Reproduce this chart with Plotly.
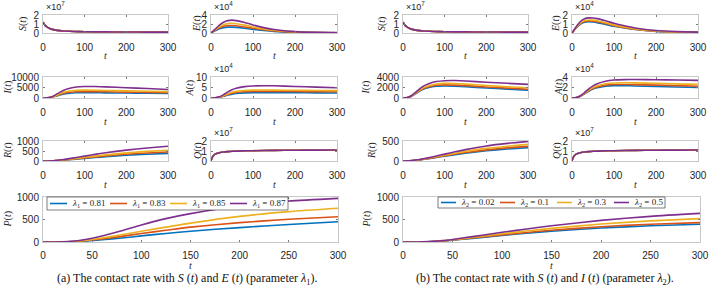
import plotly.graph_objects as go

W, H = 709, 287

# ---------------- data ----------------
t = [0, 10, 20, 30, 40, 50, 60, 80, 100, 125, 150, 200, 250, 300]
t_fast = [0, 2, 5, 10, 15, 20, 30, 40, 50, 75, 100, 150, 200, 250, 300]

colors = ['#0072BD', '#D95319', '#EDB120', '#7E2F8E']
lam1_values = ['0.81', '0.83', '0.85', '0.87']
lam2_values = ['0.02', '0.1', '0.3', '0.5']

# S(t) and Q(t) (x 1e7), identical for every parameter value
S_1e7 = [1.2, 1.05, 0.85, 0.65, 0.52, 0.43, 0.32, 0.26, 0.22, 0.17, 0.14, 0.12, 0.11, 0.10, 0.10]
Q_1e7 = [0.0, 0.25, 0.5, 0.68, 0.77, 0.83, 0.9, 0.94, 0.97, 1.01, 1.03, 1.06, 1.08, 1.09, 1.1]

# ---- panel (a): lambda_1 ----
E_a_1e4 = [
    [0, 0.5, 0.95, 1.2, 1.3, 1.3, 1.25, 1.05, 0.8, 0.55, 0.35, 0.15, 0.08, 0.05],
    [0, 0.6, 1.15, 1.5, 1.65, 1.65, 1.6, 1.35, 1.05, 0.72, 0.47, 0.2, 0.1, 0.06],
    [0, 0.7, 1.4, 1.85, 2.1, 2.15, 2.05, 1.75, 1.35, 0.92, 0.6, 0.25, 0.12, 0.07],
    [0, 0.85, 1.75, 2.4, 2.75, 2.85, 2.75, 2.35, 1.8, 1.2, 0.78, 0.3, 0.13, 0.08],
]
I_a = [
    [0, 50, 300, 800, 1400, 1900, 2200, 2500, 2550, 2500, 2450, 2350, 2250, 2150],
    [0, 60, 350, 950, 1700, 2300, 2650, 3000, 3050, 3000, 2950, 2800, 2650, 2550],
    [0, 70, 400, 1100, 2000, 2750, 3200, 3650, 3750, 3700, 3600, 3400, 3200, 3050],
    [0, 90, 500, 1500, 2700, 3700, 4400, 5200, 5450, 5450, 5300, 4900, 4500, 4050],
]
A_a_1e4 = [
    [0, 0.05, 0.3, 0.8, 1.4, 1.85, 2.15, 2.45, 2.55, 2.55, 2.55, 2.5, 2.45, 2.4],
    [0, 0.06, 0.36, 0.97, 1.7, 2.3, 2.65, 3.0, 3.15, 3.15, 3.15, 3.1, 3.0, 2.95],
    [0, 0.07, 0.42, 1.15, 2.0, 2.7, 3.15, 3.6, 3.75, 3.8, 3.75, 3.7, 3.6, 3.5],
    [0, 0.09, 0.55, 1.6, 2.9, 3.9, 4.6, 5.4, 5.75, 5.85, 5.8, 5.5, 5.2, 4.9],
]
R_a = [
    [0, 2, 8, 18, 30, 45, 60, 95, 130, 175, 215, 290, 340, 380],
    [0, 2, 9, 20, 35, 52, 70, 110, 155, 205, 255, 340, 400, 450],
    [0, 2, 10, 23, 40, 60, 82, 130, 185, 245, 305, 405, 480, 540],
    [0, 3, 12, 28, 50, 78, 108, 175, 245, 330, 410, 545, 650, 740],
]
P_a = [
    [0, 0, 2, 8, 18, 32, 50, 90, 135, 190, 240, 320, 390, 450],
    [0, 0, 2, 10, 24, 44, 68, 125, 190, 260, 330, 430, 505, 560],
    [0, 0, 3, 12, 30, 56, 88, 160, 240, 330, 420, 570, 675, 750],
    [0, 0, 4, 18, 45, 85, 135, 250, 380, 520, 630, 800, 910, 970],
]

# ---- panel (b): lambda_2 ----
E_b_1e4 = [
    [0, 0.55, 1.0, 1.2, 1.25, 1.22, 1.15, 0.95, 0.75, 0.55, 0.38, 0.18, 0.1, 0.06],
    [0, 0.58, 1.05, 1.28, 1.35, 1.32, 1.25, 1.04, 0.82, 0.6, 0.42, 0.2, 0.11, 0.07],
    [0, 0.62, 1.12, 1.38, 1.45, 1.43, 1.36, 1.14, 0.9, 0.66, 0.46, 0.22, 0.12, 0.08],
    [0, 0.7, 1.28, 1.58, 1.68, 1.67, 1.6, 1.36, 1.08, 0.8, 0.56, 0.27, 0.15, 0.1],
]
I_b = [
    [0, 60, 330, 800, 1300, 1700, 1950, 2250, 2300, 2250, 2150, 1900, 1700, 1500],
    [0, 65, 350, 860, 1400, 1830, 2100, 2430, 2500, 2450, 2350, 2100, 1880, 1680],
    [0, 70, 380, 930, 1520, 2000, 2300, 2680, 2780, 2750, 2650, 2380, 2150, 1950],
    [0, 80, 430, 1050, 1750, 2300, 2680, 3130, 3300, 3320, 3250, 3000, 2800, 2600],
]
A_b_1e4 = [
    [0, 0.06, 0.33, 0.8, 1.3, 1.7, 1.95, 2.25, 2.35, 2.35, 2.3, 2.2, 2.1, 2.0],
    [0, 0.065, 0.35, 0.86, 1.4, 1.83, 2.1, 2.45, 2.57, 2.58, 2.55, 2.45, 2.35, 2.25],
    [0, 0.07, 0.38, 0.93, 1.53, 2.0, 2.32, 2.72, 2.87, 2.9, 2.88, 2.8, 2.7, 2.6],
    [0, 0.08, 0.43, 1.05, 1.75, 2.3, 2.7, 3.2, 3.42, 3.5, 3.52, 3.48, 3.42, 3.35],
]
R_b = [
    [0, 2, 8, 17, 28, 42, 56, 88, 120, 160, 195, 255, 300, 335],
    [0, 2, 8, 18, 30, 45, 60, 95, 130, 173, 212, 278, 328, 365],
    [0, 2, 9, 20, 33, 50, 67, 106, 146, 195, 240, 315, 370, 415],
    [0, 2, 10, 23, 38, 58, 78, 124, 172, 230, 284, 375, 440, 490],
]
P_b = [
    [0, 0, 3, 10, 22, 40, 60, 102, 145, 195, 240, 310, 360, 395],
    [0, 0, 3, 10, 24, 43, 65, 112, 158, 212, 262, 340, 395, 430],
    [0, 0, 3, 11, 27, 49, 74, 128, 182, 245, 302, 400, 470, 520],
    [0, 0, 4, 13, 31, 57, 87, 150, 215, 290, 360, 480, 570, 635],
]

x_ticks_small = [0, 100, 200, 300]
x_ticks_P = [0, 50, 100, 150, 200, 250, 300]

# ---------------- layout helpers ----------------
def fx(p):
    return p / W

def fy(p):
    return 1 - p / H

SERIF = 'Liberation Serif, Times New Roman, serif'
SANS = 'Liberation Sans, Arial, sans-serif'
TXT = '#262626'

fig = go.Figure()
annotations = []
shapes = []

rows = [(15, 33), (77, 98), (141, 161), (197, 242)]
specs = [
    # panel (a)
    (43, 168, *rows[0], '<i>S</i>(<i>t</i>)', 23, [0, 2], [0, 1, 2], '7', x_ticks_small, t_fast, [S_1e7] * 4),
    (211, 337, *rows[0], '<i>E</i>(<i>t</i>)', 197, [0, 4], [0, 2, 4], '4', x_ticks_small, t, E_a_1e4),
    (43, 168, *rows[1], '<i>I</i>(<i>t</i>)', 7, [0, 10000], [0, 5000, 10000], None, x_ticks_small, t, I_a),
    (211, 337, *rows[1], '<i>A</i>(<i>t</i>)', 189, [0, 10], [0, 5, 10], '4', x_ticks_small, t, A_a_1e4),
    (43, 168, *rows[2], '<i>R</i>(<i>t</i>)', 8, [0, 1000], [0, 500, 1000], None, x_ticks_small, t, R_a),
    (211, 337, *rows[2], '<i>Q</i>(<i>t</i>)', 198, [0, 2], [0, 1, 2], '7', x_ticks_small, t_fast, [Q_1e7] * 4),
    (43, 338, *rows[3], '<i>P</i>(<i>t</i>)', 7, [0, 1000], [0, 500, 1000], None, x_ticks_P, t, P_a),
    # panel (b)
    (403, 528, *rows[0], '<i>S</i>(<i>t</i>)', 382, [0, 2], [0, 1, 2], '7', x_ticks_small, t_fast, [S_1e7] * 4),
    (572, 698, *rows[0], '<i>E</i>(<i>t</i>)', 556, [0, 2], [0, 1, 2], '4', x_ticks_small, t, E_b_1e4),
    (403, 528, *rows[1], '<i>I</i>(<i>t</i>)', 365, [0, 4000], [0, 2000, 4000], None, x_ticks_small, t, I_b),
    (572, 698, *rows[1], '<i>A</i>(<i>t</i>)', 558, [0, 4], [0, 2, 4], '4', x_ticks_small, t, A_b_1e4),
    (403, 528, *rows[2], '<i>R</i>(<i>t</i>)', 372, [0, 500], [0, 500], None, x_ticks_small, t, R_b),
    (572, 698, *rows[2], '<i>Q</i>(<i>t</i>)', 557, [0, 2], [0, 1, 2], '7', x_ticks_small, t_fast, [Q_1e7] * 4),
    (403, 700, *rows[3], '<i>P</i>(<i>t</i>)', 366, [0, 1000], [0, 500, 1000], None, x_ticks_P, t, P_b),
]

layout_axes = {}
for k, (x0, x1, y0, y1, lab, labx, yr, yt, expo, xt, tx, series) in enumerate(specs, start=1):
    xname = 'xaxis' if k == 1 else f'xaxis{k}'
    yname = 'yaxis' if k == 1 else f'yaxis{k}'
    xref = 'x' if k == 1 else f'x{k}'
    yref = 'y' if k == 1 else f'y{k}'
    big = (y1 == 242)
    for s, c in zip(series, colors):
        fig.add_trace(go.Scatter(x=tx, y=s, xaxis=xref, yaxis=yref, mode='lines',
                                 line=dict(color=c, width=1.6, shape='spline', smoothing=0.6),
                                 showlegend=False, hoverinfo='skip'))
    common = dict(showline=True, linecolor='#c8c8c8', linewidth=1, mirror='ticks',
                  ticks='inside', ticklen=2, tickcolor='#7a7a7a', showgrid=False,
                  zeroline=False, tickfont=dict(family=SANS, size=10, color=TXT),
                  automargin=False)
    layout_axes[xname] = dict(common, domain=[fx(x0), fx(x1)], anchor=yref, range=[0, 300],
                              tickvals=xt, ticktext=[str(v) for v in xt],
                              ticklabelstandoff=4 if big else 5)
    layout_axes[yname] = dict(common, domain=[fy(y1), fy(y0)], anchor=xref, range=yr,
                              tickvals=yt, ticktext=[str(v) for v in yt], ticklabelstandoff=1)
    annotations.append(dict(x=fx(labx), y=fy((y0 + y1) / 2), xref='paper', yref='paper',
                            text=lab, textangle=-90, showarrow=False,
                            font=dict(family=SERIF, size=10, color=TXT),
                            xanchor='center', yanchor='middle'))
    ty = y1 + 23
    annotations.append(dict(x=fx((x0 + x1) / 2), y=fy(ty), xref='paper', yref='paper',
                            text='<i>t</i>', showarrow=False,
                            font=dict(family=SERIF, size=10, color=TXT),
                            xanchor='center', yanchor='middle'))
    if expo:
        annotations.append(dict(x=fx(x0 + 1), y=fy(y0 - 1), xref='paper', yref='paper',
                                text='\u00d710<sup>' + expo + '</sup>', showarrow=False,
                                font=dict(family=SANS, size=9, color=TXT),
                                xanchor='left', yanchor='bottom'))

# ---------------- manual legends ----------------
def add_legend(box, starts, sub, values, seg, gap):
    bx0, bx1, by0, by1 = box
    shapes.append(dict(type='rect', xref='paper', yref='paper', x0=fx(bx0), x1=fx(bx1),
                       y0=fy(by1), y1=fy(by0), line=dict(color='#262626', width=0.6),
                       fillcolor='white', layer='above'))
    yc = (by0 + by1) / 2
    for st, c, v in zip(starts, colors, values):
        shapes.append(dict(type='line', xref='paper', yref='paper', x0=fx(st), x1=fx(st + seg),
                           y0=fy(yc), y1=fy(yc), line=dict(color=c, width=1.6), layer='above'))
        annotations.append(dict(x=fx(st + seg + gap), y=fy(yc), xref='paper', yref='paper',
                                text='<i>\u03bb</i><sub>' + sub + '</sub> = ' + v,
                                showarrow=False, xanchor='left', yanchor='middle',
                                font=dict(family=SERIF, size=9, color=TXT)))

add_legend((47, 288, 197, 210), [50, 110, 170, 230], '1', lam1_values, 17, 3)
add_legend((438, 665, 197, 208), [441, 500, 557, 614], '2', lam2_values, 15, 3)

# ---------------- captions ----------------
annotations.append(dict(x=fx(187), y=fy(279), xref='paper', yref='paper', showarrow=False,
                        text='(a) The contact rate with <i>S</i> (<i>t</i>) and <i>E</i> (<i>t</i>) (parameter <i>\u03bb</i><sub>1</sub>).',
                        font=dict(family=SERIF, size=12, color='#111111'),
                        xanchor='center', yanchor='middle'))
annotations.append(dict(x=fx(545), y=fy(279), xref='paper', yref='paper', showarrow=False,
                        text='(b) The contact rate with <i>S</i> (<i>t</i>) and <i>I</i> (<i>t</i>) (parameter <i>\u03bb</i><sub>2</sub>).',
                        font=dict(family=SERIF, size=12, color='#111111'),
                        xanchor='center', yanchor='middle'))

fig.update_layout(width=W, height=H, margin=dict(l=0, r=0, t=0, b=0),
                  paper_bgcolor='white', plot_bgcolor='white', showlegend=False,
                  annotations=annotations, shapes=shapes, **layout_axes)

fig.write_html('out.html', config={'displayModeBar': False},
               post_script="document.body.style.margin='0';document.body.style.padding='0';"
                           "document.body.style.overflow='hidden';")
